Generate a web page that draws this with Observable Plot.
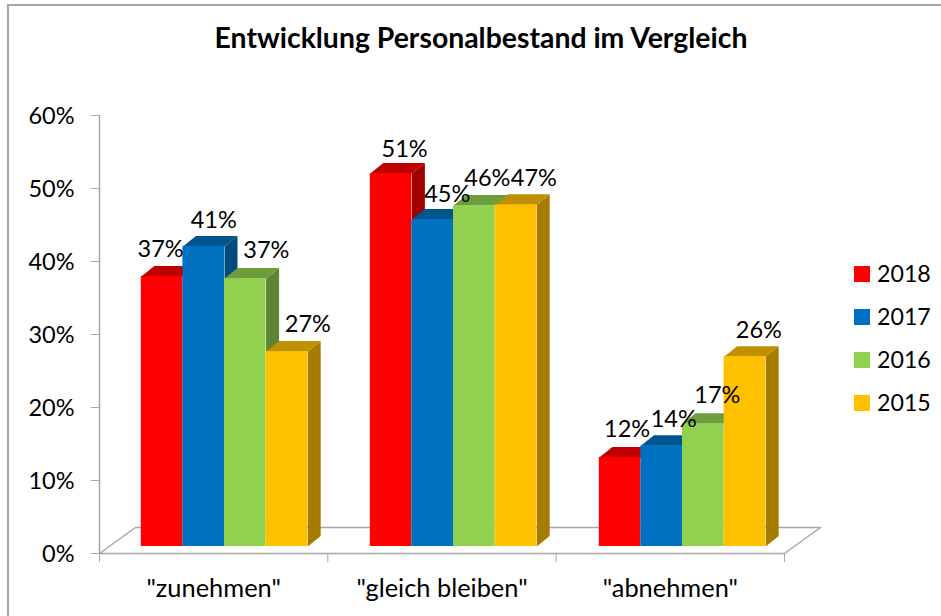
<!DOCTYPE html>
<html lang="de">
<head>
<meta charset="utf-8">
<script src="https://cdn.jsdelivr.net/npm/d3@7"></script>
<script src="https://cdn.jsdelivr.net/npm/@observablehq/plot@0.6"></script>
<style>
  html, body { margin: 0; padding: 0; background: #fff; overflow: hidden; }
  #page { position: relative; width: 941px; height: 616px; overflow: hidden; font-family: Lato, sans-serif; color: #000; }
  #frame { position: absolute; left: 7px; top: 4px; width: 960px; height: 660px; border: 2px solid #a6a6a6; box-sizing: border-box; }
  #title { position: absolute; left: 0; width: 962px; top: 21px; text-align: center; font-size: 28.4px; font-weight: 700; line-height: 32px; }
  #chart { position: absolute; left: 0; top: 0; }
  #chart svg { overflow: visible; }
  #legend { position: absolute; left: 854px; top: 252.5px; }
  .row { display: flex; align-items: center; height: 43px; font-size: 23.2px; }
  .row span { position: relative; top: -1px; }
  .sw { width: 16px; height: 16px; margin-right: 7px; }
</style>
</head>
<body>
<div id="page">
  <div id="frame"></div>
  <div id="chart"></div>
  <div id="title"></div>
  <div id="legend"></div>
</div>
<script>
const titleText = "Entwicklung Personalbestand im Vergleich";
const categories = ['"zunehmen"', '"gleich bleiben"', '"abnehmen"'];
const years = ["2018", "2017", "2016", "2015"];

// bar heights
const values2018 = [37.0, 51.1, 12.2];
const values2017 = [41.1, 44.8, 13.8];
const values2016 = [36.7, 46.7, 16.8];
const values2015 = [26.7, 46.8, 26.0];
const seriesValues = [values2018, values2017, values2016, values2015];

// data labels as printed on the chart
const labels2018 = [37, 51, 12];
const labels2017 = [41, 45, 14];
const labels2016 = [37, 46, 17];
const labels2015 = [27, 47, 26];
const seriesLabels = [labels2018, labels2017, labels2016, labels2015];

// colours per series
const frontColors = ["#ff0000", "#0070c0", "#92d050", "#ffc000"];
const topColors   = ["#bf0000", "#00558f", "#6f9c3d", "#bf9000"];
const sideColors  = ["#a30000", "#004a7d", "#5f8534", "#a67c00"];

// chart layout
const width = 941, height = 616;
const margin = {left: 99, right: 157, top: 115, bottom: 63};
const pxPerX = (width - margin.left - margin.right) / categories.length;
const pxPerY = (height - margin.top - margin.bottom) / 60;
const ux = (px) => px / pxPerX;
const uy = (px) => px / pxPerY;

const floorDx = ux(36), floorDy = uy(26);
const barLift = uy(7);
const barStart = ux(41.8), barWidth = ux(41.6), groupPitch = ux(229);
const depthX = ux(13), depthY = uy(10.5);

// label nudges relative to the top centre of each bar's front (px), [series][category]
const nudges = [
  [[-1.5, 27], [13.5, 24], [7, 28]],
  [[10, 26], [14.5, 25], [12, 26]],
  [[21, 28], [13, 27], [14, 28]],
  [[21, 27], [18, 26], [14, 26]]
];

const bars = categories.flatMap((c, ci) => years.map((year, si) => {
  const x1 = ci * groupPitch + barStart + si * barWidth;
  return {
    year, si, ci,
    x1, x2: x1 + barWidth,
    y1: barLift,
    y2: seriesValues[si][ci] + barLift,
    label: seriesLabels[si][ci] + "%",
    lx: x1 + barWidth / 2 + ux(nudges[si][ci][0]),
    ly: seriesValues[si][ci] + barLift + uy(nudges[si][ci][1])
  };
}));

// top and side faces, in painting order
const faces = categories.flatMap((c, ci) => bars.filter(b => b.ci === ci).flatMap(b => {
  const side = [[b.x2, b.y1], [b.x2 + depthX, b.y1 + depthY], [b.x2 + depthX, b.y2 + depthY], [b.x2, b.y2]];
  const top = [[b.x1, b.y2], [b.x2, b.y2], [b.x2 + depthX, b.y2 + depthY], [b.x1 + depthX, b.y2 + depthY]];
  return [
    ...side.map(([x, y]) => ({x, y, face: `side-${ci}-${b.si}`, color: sideColors[b.si]})),
    ...top.map(([x, y]) => ({x, y, face: `top-${ci}-${b.si}`, color: topColors[b.si]}))
  ];
}));

const n = categories.length;
const floor = [[0, 0], [n, 0], [n + floorDx, floorDy], [floorDx, floorDy], [0, 0]].map(([x, y]) => ({x, y}));
const gray = "#a6a6a6";

const plot = Plot.plot({
  width, height,
  marginLeft: margin.left, marginRight: margin.right, marginTop: margin.top, marginBottom: margin.bottom,
  style: {background: "transparent", fontFamily: "Lato, sans-serif", color: "#000"},
  x: {domain: [0, n]},
  y: {domain: [0, 60]},
  marks: [
    Plot.line(floor, {x: "x", y: "y", stroke: gray, strokeWidth: 1.5}),
    Plot.ruleX([0], {y1: 0, y2: 60, stroke: gray, strokeWidth: 1.5}),
    Plot.axisY({ticks: d3.range(0, 61, 10), tickFormat: () => "", tickSize: 8, stroke: gray, label: null}),
    Plot.axisY({ticks: d3.range(0, 61, 10), tickFormat: d => d + "%", tickSize: 0, tickPadding: 25, dy: 1, fill: "#000", fontSize: 23.5, label: null}),
    Plot.axisX({ticks: d3.range(0, n + 1), tickFormat: () => "", tickSize: 9, stroke: gray, label: null}),
    Plot.axisX({ticks: categories.map((c, i) => i + 0.5), tickFormat: d => categories[Math.floor(d)], tickSize: 0, tickPadding: 25, fill: "#000", fontSize: 25.4, label: null}),
    Plot.line(faces, {x: "x", y: "y", z: "face", fill: d => d.color, stroke: "none"}),
    Plot.rect(bars, {x1: "x1", x2: "x2", y1: "y1", y2: "y2", fill: d => frontColors[d.si]}),
    Plot.text(bars, {x: "lx", y: "ly", text: "label", fontSize: 23.5, fill: "#000", textAnchor: "middle"})
  ]
});
document.getElementById("chart").append(plot);
document.getElementById("title").textContent = titleText;
const legend = document.getElementById("legend");
years.forEach((y, i) => {
  const row = document.createElement("div");
  row.className = "row";
  const sw = document.createElement("div");
  sw.className = "sw";
  sw.style.background = frontColors[i];
  const t = document.createElement("span");
  t.textContent = y;
  row.append(sw, t);
  legend.append(row);
});
</script>
</body>
</html>
